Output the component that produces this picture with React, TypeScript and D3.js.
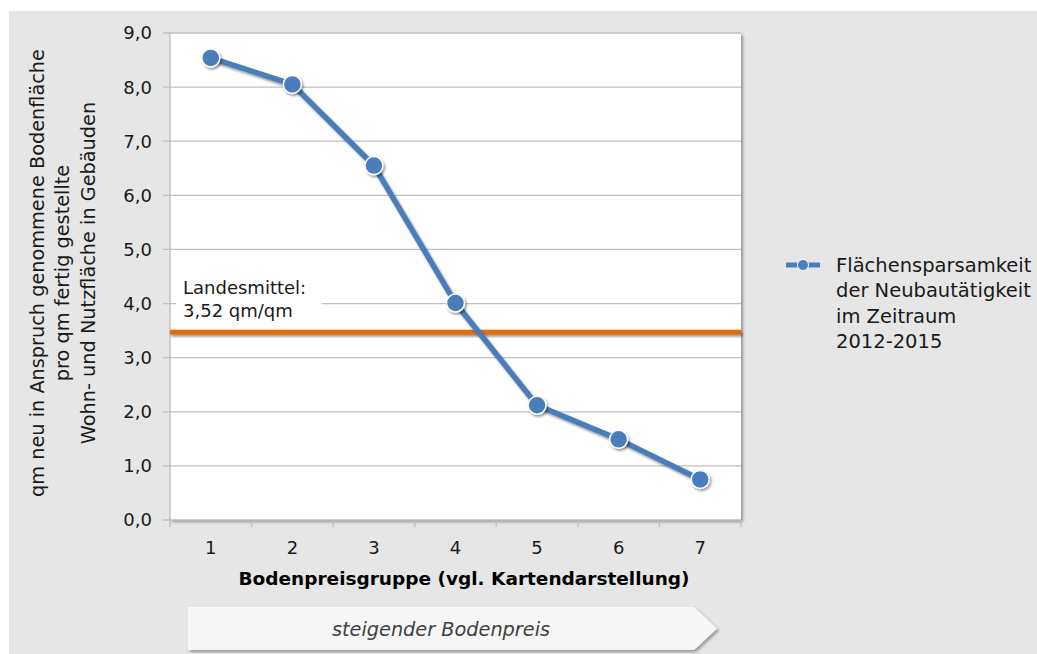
import React from 'react';
import * as d3 from 'd3';

const categories = ['1', '2', '3', '4', '5', '6', '7'];
const values = [8.54, 8.05, 6.55, 4.01, 2.12, 1.49, 0.75];
const yTicks = [0, 1, 2, 3, 4, 5, 6, 7, 8, 9];
const landesmittel = 3.47;
const refLabel = ['Landesmittel:', '3,52 qm/qm'];
const legendLines = ['Flächensparsamkeit', 'der Neubautätigkeit', 'im Zeitraum', '2012-2015'];
const yTitle = ['qm neu in Anspruch genommene Bodenfläche', 'pro qm fertig gestellte', 'Wohn- und Nutzfläche in Gebäuden'];
const xTitle = 'Bodenpreisgruppe (vgl. Kartendarstellung)';
const arrowText = 'steigender Bodenpreis';

const W = 1037;
const H = 654;
const plot = { left: 170, right: 741, top: 33, bottom: 520 };
const FONT = '"DejaVu Sans", Verdana, sans-serif';

export default function App() {
  const x = d3.scaleBand<string>().domain(categories).range([plot.left, plot.right]).padding(0);
  const y = d3.scaleLinear().domain([0, 9]).range([plot.bottom, plot.top]);
  const fmt = (v: number) => d3.format('.1f')(v).replace('.', ',');
  const cx = (c: string) => (x(c) ?? 0) + x.bandwidth() / 2;
  const pts: [number, number][] = categories.map((c, i) => [cx(c), y(values[i])]);
  const line = d3.line<[number, number]>().x(d => d[0]).y(d => d[1]);
  const bounds = [...categories.map(c => x(c) ?? 0), plot.right];
  const yRef = y(landesmittel);

  const arrow = { l: 188, r: 694, tip: 717, t: 607, b: 650 };

  return (
    <svg width={W} height={H} style={{ position: 'absolute', left: 0, top: 0 }} fontFamily={FONT}>
      <defs>
        <filter id="sh" x="-10%" y="-10%" width="130%" height="130%">
          <feDropShadow dx="2" dy="2" stdDeviation="1.5" floodColor="#000" floodOpacity="0.35" />
        </filter>
        <filter id="shs" filterUnits="userSpaceOnUse" x="0" y="0" width={W} height={H}>
          <feDropShadow dx="1.5" dy="2" stdDeviation="1.2" floodColor="#000" floodOpacity="0.4" />
        </filter>
      </defs>
      <rect x={9} y={11} width={W - 9} height={H - 11} fill="#e6e6e6" />
      {/* plot area */}
      <rect x={plot.left} y={plot.top} width={plot.right - plot.left} height={plot.bottom - plot.top} fill="#fff" filter="url(#sh)" />
      {/* gridlines */}
      {yTicks.map(t => (
        <line key={'g' + t} x1={plot.left - 7} x2={plot.right} y1={y(t)} y2={y(t)} stroke="#c0c0c0" strokeWidth={1.3} />
      ))}
      {/* y axis */}
      <line x1={plot.left} x2={plot.left} y1={plot.top} y2={plot.bottom} stroke="#bdbdbd" strokeWidth={1.3} />
      {/* x tick marks */}
      {bounds.map((b, i) => (
        <line key={'xt' + i} x1={b} x2={b} y1={plot.bottom} y2={plot.bottom + 7} stroke="#bdbdbd" strokeWidth={1.3} />
      ))}
      {/* y tick labels */}
      {yTicks.map(t => (
        <text key={'yl' + t} x={152} y={y(t)} dy="0.36em" textAnchor="end" fontSize={18} fill="#1a1a1a">{fmt(t)}</text>
      ))}
      {/* x tick labels */}
      {categories.map(c => (
        <text key={'xl' + c} x={cx(c)} y={548} dy="0.36em" textAnchor="middle" fontSize={18} fill="#1a1a1a">{c}</text>
      ))}
      {/* x title */}
      <text x={464} y={578} dy="0.36em" textAnchor="middle" fontSize={18.5} fontWeight="bold" fill="#000">{xTitle}</text>
      {/* y title */}
      <g transform="translate(0,273)">
        {yTitle.map((s, i) => (
          <text key={'yt' + i} transform={`translate(${37 + i * 25.3},0) rotate(-90)`} dy="0.36em" textAnchor="middle" fontSize={19.3} fill="#1a1a1a">{s}</text>
        ))}
      </g>
      {/* reference label box */}
      <rect x={176} y={272} width={146} height={54} fill="#fff" />
      {refLabel.map((s, i) => (
        <text key={'rl' + i} x={183} y={288 + i * 23} dy="0.36em" fontSize={18} fill="#1a1a1a">{s}</text>
      ))}
      {/* reference line */}
      <rect x={plot.left} y={yRef - 2.5} width={plot.right - plot.left} height={5} fill="#e36c09" filter="url(#shs)" />
      {/* series */}
      <path d={line(pts) ?? ''} fill="none" stroke="#4a7ebb" strokeWidth={5.5} strokeLinejoin="round" filter="url(#shs)" />
      {pts.map((p, i) => (
        <circle key={'pt' + i} cx={p[0]} cy={p[1]} r={9} fill="#4a7ebb" stroke="#fff" strokeWidth={1.5} filter="url(#shs)" />
      ))}
      {/* legend */}
      <line x1={786} x2={820} y1={265} y2={265} stroke="#4a7ebb" strokeWidth={5} />
      <circle cx={803} cy={265} r={5.5} fill="#4a7ebb" stroke="#fff" strokeWidth={1} />
      {legendLines.map((s, i) => (
        <text key={'lg' + i} x={836} y={265 + i * 25.3} dy="0.36em" fontSize={19.5} fill="#1a1a1a">{s}</text>
      ))}
      {/* arrow */}
      <path
        d={`M${arrow.l},${arrow.t}L${arrow.r},${arrow.t}L${arrow.tip},${(arrow.t + arrow.b) / 2}L${arrow.r},${arrow.b}L${arrow.l},${arrow.b}Z`}
        fill="#f7f7f7"
        filter="url(#sh)"
      />
      <text x={441} y={629} dy="0.36em" textAnchor="middle" fontSize={19.3} fontStyle="italic" fill="#404040">{arrowText}</text>
    </svg>
  );
}
